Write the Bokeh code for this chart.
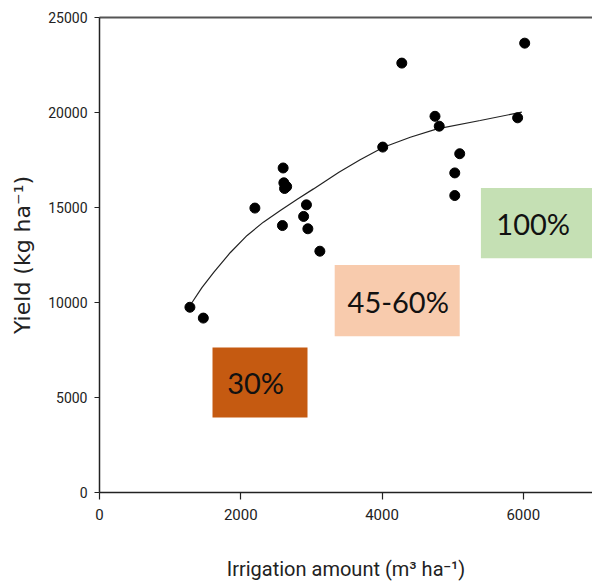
from bokeh.plotting import figure
from bokeh.models import Range1d, LinearAxis, FixedTicker
from bokeh.core.properties import value
from bokeh.embed import file_html
from bokeh.resources import INLINE

# Irrigation amount (m3/ha) and yield (kg/ha) observations
irrigation = [1280, 1470, 2200, 2600, 2610, 2650, 2620, 2590, 2890, 2930, 2950,
              3120, 4010, 4280, 4750, 4810, 5030, 5030, 5100, 5920, 6020]
yield_kg = [9750, 9180, 14970, 17080, 16300, 16100, 16000, 14050, 14530, 15140, 13880,
            12700, 18180, 22600, 19800, 19280, 16820, 15630, 17830, 19720, 23650]

# Fitted trend curve
trend_x = [1310, 1450, 1620, 1850, 2090, 2320, 2560, 2800, 3030, 3390, 3690, 4020, 4400, 4780, 5390, 5980]
trend_y = [10000, 10780, 11600, 12620, 13530, 14230, 14840, 15440, 15980, 16860, 17510, 18170, 18700, 19140, 19580, 20020]

# Irrigation level labels
level_labels = ["30%", "45-60%", "100%"]
level_colors = ["#C55A11", "#F8CBAD", "#C5E0B4"]

# Tick values
x_ticks = [0, 2000, 4000, 6000]
y_ticks = [0, 5000, 10000, 15000, 20000, 25000]

# annotation box layout (data units)
box_left = [1600, 3330, 5400]
box_right = [2945, 5100, 7100]
box_bottom = [3950, 8230, 12330]
box_top = [7630, 11980, 16020]
text_x = [2210, 4230, 6140]
text_y = [5800, 10050, 14150]

p = figure(width=592, height=584, output_backend="svg", toolbar_location=None,
           x_range=Range1d(0, 6980), y_range=Range1d(0, 25000),
           min_border_left=99, min_border_right=0, min_border_top=17, min_border_bottom=92)
p.outline_line_color = None
p.grid.visible = False
p.background_fill_color = "white"
p.border_fill_color = "white"

p.quad(left=box_left, right=box_right, bottom=box_bottom, top=box_top,
       fill_color=level_colors, line_color=None)
p.text(x=text_x, y=text_y, text=level_labels, text_align="center", text_baseline="middle",
       text_font=value("Lato"), text_font_size="29px", text_color="#111111")

p.line(trend_x, trend_y, line_color="#222222", line_width=1.2)
p.scatter(irrigation, yield_kg, size=10, fill_color="black", line_color="black")

for ax in (p.xaxis[0], p.yaxis[0]):
    ax.axis_line_color = "#222222"
    ax.axis_line_width = 1.5
    ax.major_tick_line_color = "#222222"
    ax.major_tick_line_width = 1.2
    ax.major_tick_in = 0
    ax.minor_tick_line_color = None
    ax.major_label_text_font = "Roboto"
    ax.major_label_text_color = "#222222"

p.xaxis[0].ticker = FixedTicker(ticks=x_ticks)
p.yaxis[0].ticker = FixedTicker(ticks=y_ticks)
p.xaxis[0].major_tick_out = 7
p.yaxis[0].major_tick_out = 5
p.xaxis[0].major_label_text_font_size = "15px"
p.yaxis[0].major_label_text_font_size = "14px"
p.xaxis[0].major_label_standoff = 9
p.yaxis[0].major_label_standoff = 7

p.xaxis[0].axis_label = "Irrigation amount (m³ ha⁻¹)"
p.xaxis[0].axis_label_text_font = "Roboto"
p.xaxis[0].axis_label_text_font_size = "20px"
p.xaxis[0].axis_label_text_font_style = "normal"
p.xaxis[0].axis_label_text_color = "#222222"
p.xaxis[0].axis_label_standoff = 34

p.yaxis[0].axis_label = "Yield (kg ha⁻¹)"
p.yaxis[0].axis_label_text_font = "DejaVu Sans"
p.yaxis[0].axis_label_text_font_size = "22px"
p.yaxis[0].axis_label_text_font_style = "normal"
p.yaxis[0].axis_label_text_color = "#222222"
p.yaxis[0].axis_label_standoff = 10

top = LinearAxis(axis_line_color="#555555", axis_line_width=2, major_tick_line_color=None,
                 minor_tick_line_color=None, major_label_text_font_size="0px",
                 ticker=FixedTicker(ticks=[]))
p.add_layout(top, "above")

open("out.html", "w").write(file_html(p, INLINE))
